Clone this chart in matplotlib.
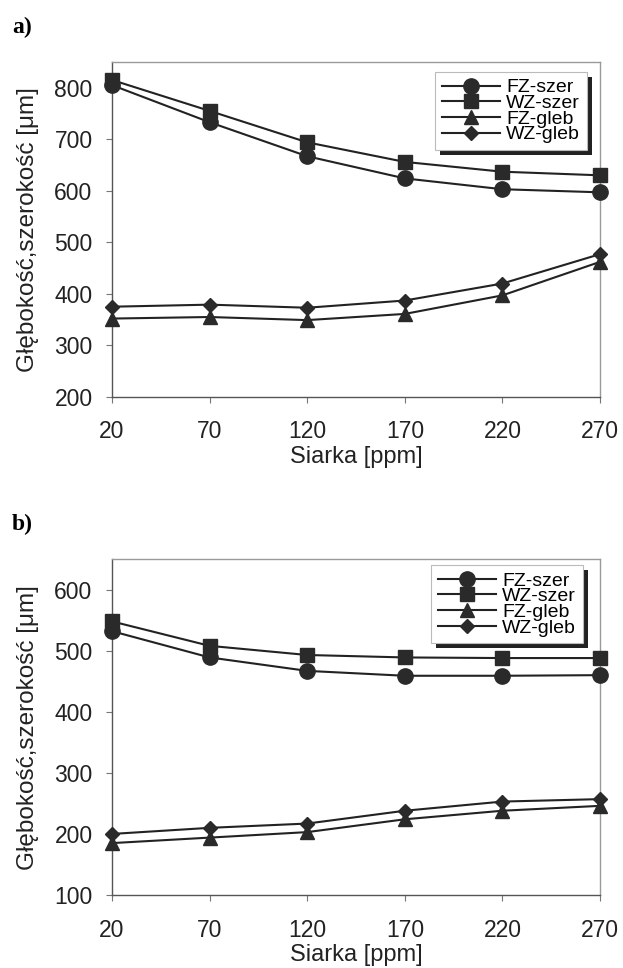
import matplotlib.pyplot as plt
import matplotlib.patheffects as pe

siarka = [20, 70, 120, 170, 220, 270]

# panel a
a_fz_szer = [805, 733, 667, 624, 603, 597]
a_wz_szer = [815, 755, 694, 656, 637, 630]
a_fz_gleb = [352, 355, 349, 361, 397, 462]
a_wz_gleb = [375, 379, 373, 387, 420, 477]

# panel b
b_fz_szer = [532, 489, 467, 459, 459, 460]
b_wz_szer = [548, 508, 493, 489, 488, 488]
b_fz_gleb = [185, 194, 203, 224, 238, 246]
b_wz_gleb = [200, 210, 217, 238, 253, 257]

names = ["FZ-szer", "WZ-szer", "FZ-gleb", "WZ-gleb"]
markers = ["o", "s", "^", "D"]
msizes = [11, 10.5, 10.5, 6.8]
ink = "#222222"

plt.rcParams['font.family'] = ['Liberation Sans', 'DejaVu Sans']

fig = plt.figure(figsize=(6.23, 9.68), dpi=100)
ax_a = fig.add_axes([0.1798, 0.590, 0.7833, 0.346])
ax_b = fig.add_axes([0.1798, 0.0754, 0.7833, 0.347])

def panel(ax, series, ylim, yticks, anchor):
    for s, lab, m, ms in zip(series, names, markers, msizes):
        ax.plot(siarka, s, color=ink, lw=1.5, marker=m, ms=ms, label=lab,
                mfc="#2a2a2a", mec="#2a2a2a", clip_on=False, zorder=3)
    ax.set_xlim(20, 270)
    ax.set_ylim(*ylim)
    ax.set_xticks(siarka)
    ax.set_yticks(yticks)
    ax.tick_params(labelsize=16.5, length=4, color="#777777",
                   labelcolor=ink)
    ax.tick_params(axis="x", pad=13)
    ax.tick_params(axis="y", pad=10)
    for sp in ax.spines.values():
        sp.set_color("#9a9a9a")
        sp.set_linewidth(1)
    ax.spines["left"].set_color("#555555")
    ax.spines["bottom"].set_color("#555555")
    ax.set_xlabel("Siarka [ppm]", fontsize=17, color=ink, labelpad=2)
    ax.set_ylabel("Głębokość,szerokość [μm]", fontsize=17.5, color=ink,
                  labelpad=11)
    leg = ax.legend(loc="upper right", bbox_to_anchor=anchor,
                    fontsize=14, handlelength=3.0, handletextpad=0.3,
                    labelspacing=-0.1, borderpad=0.35, borderaxespad=0,
                    fancybox=False, edgecolor="#bbbbbb", framealpha=1.0)
    fr = leg.get_frame()
    fr.set_linewidth(0.8)
    fr.set_path_effects([pe.SimplePatchShadow(offset=(3.5, -3.5),
                                              shadow_rgbFace="#222222",
                                              alpha=1.0),
                         pe.Normal()])

panel(ax_a, [a_fz_szer, a_wz_szer, a_fz_gleb, a_wz_gleb], (200, 850),
      [200, 300, 400, 500, 600, 700, 800], (0.973, 0.970))
panel(ax_b, [b_fz_szer, b_wz_szer, b_fz_gleb, b_wz_gleb], (100, 650),
      [100, 200, 300, 400, 500, 600], (0.965, 0.982))

serif = ["Liberation Serif", "DejaVu Serif"]
fig.text(0.019, 0.972, "a)", fontsize=17, fontweight="bold",
         family=serif, va="center")
fig.text(0.019, 0.458, "b)", fontsize=17, fontweight="bold",
         family=serif, va="center")

fig.savefig("out.png", dpi=100)
